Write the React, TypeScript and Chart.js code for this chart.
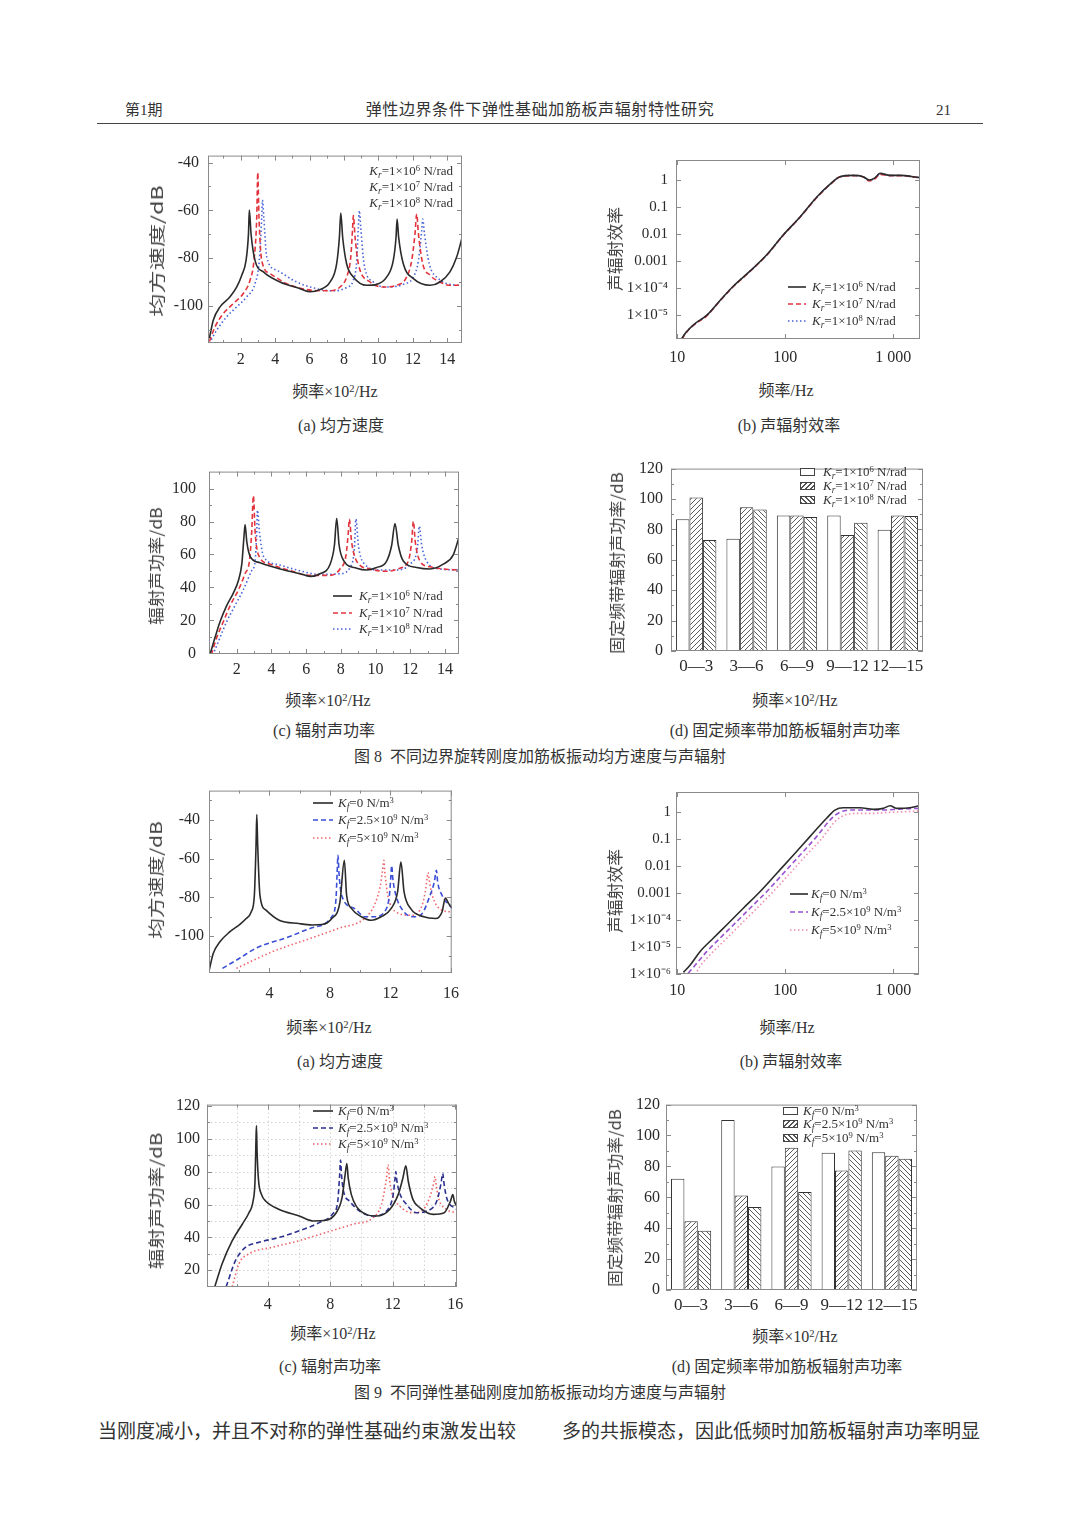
import React, { useEffect, useLayoutEffect, useRef } from "react";
import { Chart, registerables } from "chart.js";
Chart.register(...registerables);

const SERIF = "'Liberation Serif', 'Noto Sans CJK SC', serif";
const SANS_CJK = "'Noto Sans CJK SC', 'Liberation Sans', sans-serif";
const TICK_C = "#2a2a2a";
const C_BLACK = "#2b2b2b";
const C_RED = "#e3343e";
const C_BLUE = "#4a63d8";
const C9A_BLUE = "#3a4fd6";
const C9A_RED = "#f0666e";
const C9B_PURPLE = "#9a52d2";
const C9B_PINK = "#f28cb0";
const C9C_NAVY = "#2c3190";
const C9C_RED = "#ee6464";
const DASH = [5, 3];
const DOT = [1.5, 2.5];

// ---------- Fig 8(a) mean square velocity (x: ×10² Hz, y: dB) ----------
const F8A_X_K6 = [0.18, 0.41, 0.8, 1.38, 1.77, 2.06, 2.31, 2.45, 2.5, 2.6, 2.83, 3.32, 4.28, 5.45, 6.03, 6.6, 7.19, 7.57, 7.73, 7.81, 7.92, 8.15, 8.54, 9.32, 9.9, 10.48, 10.86, 11.02, 11.08, 11.17, 11.44, 12.03, 13, 13.57, 14.15, 14.54, 14.85];
const F8A_Y_K6 = [-113.4, -105.8, -100.3, -96.1, -92, -87.1, -80.9, -69.8, -59.8, -69.8, -80.9, -85.7, -89.9, -92.7, -94, -93.1, -89.9, -82.3, -71.2, -61.1, -71.2, -82.3, -87.8, -91.3, -90.9, -87.8, -80.9, -71.2, -63.6, -71.2, -82.3, -88.5, -91.3, -89.9, -85.7, -79.5, -71.5];
const F8A_X_K7 = [0.18, 0.51, 1, 1.57, 2.15, 2.54, 2.77, 2.93, 2.99, 3.06, 3.22, 3.7, 4.67, 5.83, 6.99, 7.77, 8.15, 8.39, 8.5, 8.54, 8.64, 8.83, 9.51, 10.28, 11.06, 11.64, 11.93, 12.12, 12.22, 12.32, 12.57, 13, 13.57, 14.15, 14.85];
const F8A_Y_K7 = [-114.8, -108.6, -103, -98.9, -94.7, -89.2, -80.9, -62.9, -44.2, -62.9, -80.9, -86.4, -90.6, -93.1, -93.6, -92, -87.8, -79.5, -67, -62.2, -71.2, -82.3, -89.9, -92, -91.3, -87.8, -80.9, -69.8, -61.5, -69.8, -82.3, -87.1, -89.9, -91.3, -91.3];
const F8A_X_K8 = [0.18, 0.61, 1.19, 1.77, 2.35, 2.83, 3.08, 3.22, 3.26, 3.34, 3.51, 4.09, 5.25, 6.41, 7.38, 8.15, 8.54, 8.74, 8.83, 8.89, 8.97, 9.16, 9.7, 10.48, 11.44, 12.03, 12.32, 12.51, 12.57, 12.67, 12.95, 13.48, 14.15, 14.85];
const F8A_Y_K8 = [-115.5, -110, -104.4, -100.3, -96.1, -90.6, -80.9, -62.9, -55.7, -62.9, -79.5, -85, -89.9, -92.7, -93.6, -92.2, -89.2, -80.9, -67, -60.1, -67, -82.3, -89.9, -92, -90.9, -87.8, -80.9, -68.4, -63.6, -69.8, -82.3, -88.5, -90.9, -91.3];
const T8A_X = [2, 4, 6, 8, 10, 12, 14];
const M8A_X = [1, 3, 5, 7, 9, 11, 13];
const T8A_Y = [-100, -80, -60, -40];
const M8A_Y = [-110, -90, -70, -50];

// ---------- Fig 8(b) radiation efficiency (log-log) ----------
const F8B_X = [11, 12.2, 14.6, 18.7, 24.8, 33, 47.1, 67.1, 95.7, 137, 195, 260, 321, 426, 526, 600, 676, 753, 931, 1150, 1760];
const F8B_Y_K6 = [1.4e-6, 2.5e-6, 5e-6, 1e-5, 3.5e-5, 1.2e-4, 4.3e-4, 1.7e-3, 9.3e-3, 0.043, 0.23, 0.7, 1.32, 1.48, 1.32, 1.0, 1.2, 1.75, 1.48, 1.48, 1.22];
const F8B_Y_K7 = [1.3e-6, 2.4e-6, 4.8e-6, 9.5e-6, 3.4e-5, 1.15e-4, 4.2e-4, 1.65e-3, 9.0e-3, 0.042, 0.22, 0.68, 1.3, 1.45, 1.3, 0.92, 1.1, 1.6, 1.45, 1.45, 1.2];
const F8B_Y_K8 = [1.35e-6, 2.45e-6, 4.9e-6, 9.8e-6, 3.45e-5, 1.18e-4, 4.25e-4, 1.68e-3, 9.2e-3, 0.043, 0.225, 0.69, 1.31, 1.47, 1.31, 0.97, 1.15, 1.7, 1.47, 1.47, 1.21];
const T_LOGX = [10, 100, 1000];
const T_LOGX_LABELS = ["10", "100", "1 000"];
const T8B_Y = [1e-5, 1e-4, 1e-3, 0.01, 0.1, 1];
const T8B_Y_LABELS = ["1×10⁻⁵", "1×10⁻⁴", "0.001", "0.01", "0.1", "1"];

// ---------- Fig 8(c) radiated sound power (dB) ----------
const F8C_X_K6 = [0.45, 0.75, 1.04, 1.42, 1.81, 2.1, 2.29, 2.42, 2.48, 2.58, 2.77, 3.34, 4.5, 5.65, 6.22, 6.8, 7.38, 7.63, 7.76, 7.9, 8.18, 8.91, 9.49, 10.06, 10.64, 10.93, 11.12, 11.31, 11.6, 12.37, 13.14, 13.9, 14.48, 14.81];
const F8C_Y_K6 = [-1, 9.7, 19.3, 29, 36.7, 44.4, 54.1, 71.4, 78.2, 67.6, 58.9, 55, 51.2, 48.3, 46.7, 48.3, 54.1, 65.6, 82, 65.6, 56, 51.7, 50.6, 52.1, 56, 65.6, 78.8, 65.6, 56, 52.1, 51.2, 54.1, 59.8, 70.5];
const F8C_X_K7 = [0.53, 0.85, 1.23, 1.62, 2.1, 2.48, 2.73, 2.86, 2.96, 3.06, 3.25, 3.92, 5.07, 6.22, 7.38, 7.95, 8.3, 8.43, 8.49, 8.62, 8.91, 9.68, 10.64, 11.41, 11.89, 12.08, 12.18, 12.29, 12.56, 13.14, 13.9, 14.81];
const F8C_Y_K7 = [-1, 9.7, 19.3, 29, 38.6, 48.3, 56, 73.4, 95.6, 73.4, 59.8, 54.1, 50.2, 47.3, 47.3, 51.2, 59.8, 73.4, 81.5, 67.6, 56, 51.2, 49.8, 51.7, 56, 67.6, 80.1, 67.6, 56, 52.5, 51.2, 50.6];
const F8C_X_K8 = [0.62, 1.04, 1.42, 1.9, 2.38, 2.86, 3.06, 3.15, 3.19, 3.31, 3.54, 4.3, 5.46, 6.8, 7.95, 8.53, 8.78, 8.87, 9.01, 9.3, 10.26, 11.22, 11.98, 12.41, 12.52, 12.66, 12.94, 13.71, 14.81];
const F8C_Y_K8 = [-1, 9.7, 19.3, 29, 38.6, 50.2, 56, 73.4, 86.9, 73.4, 58.9, 54.1, 50.6, 47.9, 48.3, 52.1, 63.7, 81.5, 65.6, 55, 50.6, 50.6, 54.1, 63.7, 77.2, 65.6, 56, 51.2, 50.6];
const T8C_X = [2, 4, 6, 8, 10, 12, 14];
const M8C_X = [1, 3, 5, 7, 9, 11, 13];
const T8C_Y = [0, 20, 40, 60, 80, 100];
const M8C_Y = [10, 30, 50, 70, 90];

// ---------- Fig 8(d) band sound power (dB) ----------
const BAND_CATS = ["0—3", "3—6", "6—9", "9—12", "12—15"];
const F8D_K6 = [86.7, 73.8, 89.2, 89.2, 79.8];
const F8D_K7 = [101, 94.6, 89.2, 76.3, 89.2];
const F8D_K8 = [73.1, 93.1, 88.2, 84.3, 88.8];
const T_BAR_Y = [0, 20, 40, 60, 80, 100, 120];
const M_BAR_Y = [10, 30, 50, 70, 90, 110];

// ---------- Fig 9(a) mean square velocity ----------
const F9A_X_K0 = [0, 0.28, 0.72, 1.37, 2.02, 2.46, 2.79, 3.0, 3.11, 3.16, 3.22, 3.37, 3.77, 4.64, 5.94, 6.81, 7.47, 8.12, 8.66, 8.95, 9.1, 9.43, 10.08, 10.73, 11.38, 12.04, 12.47, 12.69, 12.9, 13.34, 14.2, 14.98, 15.41, 15.63, 15.85, 16.1];
const F9A_Y_K0 = [-118, -108.9, -102.9, -97.8, -94, -90.9, -87.5, -78.9, -53.2, -37.3, -53.2, -78.9, -86.6, -91.8, -93.5, -94.2, -94, -90.9, -82.3, -60.9, -78.9, -85.8, -90, -91.8, -90, -85.8, -77.2, -61.8, -77.2, -85.8, -90, -90.9, -87.5, -80.3, -83.2, -85.5];
const F9A_X_K25 = [0.89, 2.02, 3.11, 5.29, 6.81, 8.12, 8.4, 8.47, 8.53, 8.6, 8.77, 9.64, 10.3, 10.95, 11.6, 11.93, 12.02, 12.08, 12.15, 12.36, 12.9, 13.56, 14.1, 14.54, 14.9, 15.04, 15.12, 15.41, 16.1];
const F9A_Y_K25 = [-116.6, -111.4, -106.2, -100.3, -95.7, -89.9, -80.6, -68, -58.3, -68, -78.9, -85.8, -90, -90, -87.5, -78.9, -70, -63.5, -70, -78.9, -87.5, -90, -88.3, -80.6, -72, -66, -72, -78.9, -85.8];
const F9A_X_K5 = [1.81, 4.2, 6.38, 8.56, 10.3, 10.95, 11.3, 11.48, 11.56, 11.64, 11.82, 12.36, 13.34, 14, 14.3, 14.42, 14.48, 14.56, 14.76, 15.41, 16.1];
const F9A_Y_K5 = [-116.6, -108, -102, -96, -90.8, -83.7, -75, -66, -60.9, -68, -78.9, -87.5, -89.2, -85.8, -77.2, -70, -67.2, -71, -78.9, -86.6, -87.5];
const T9A_X = [4, 8, 12, 16];
const M9A_X = [2, 6, 10, 14];
const T9A_Y = [-100, -80, -60, -40];
const M9A_Y = [-110, -90, -70, -50, -30];

// ---------- Fig 9(b) radiation efficiency ----------
const F9B_X_K0 = [11.4, 13.1, 16.2, 21.5, 28.6, 40.8, 58.2, 83.1, 119, 169, 241, 288, 345, 491, 653, 808, 933, 1072, 1426, 1740];
const F9B_Y_K0 = [1.15e-6, 2.1e-6, 6.7e-6, 2.1e-5, 6.5e-5, 2.7e-4, 1.1e-3, 5.2e-3, 0.025, 0.12, 0.57, 1.15, 1.4, 1.4, 1.22, 1.33, 1.67, 1.33, 1.4, 1.67];
const F9B_X_K25 = [12.6, 14.6, 18.7, 24.8, 33, 47.1, 67.1, 95.7, 137, 195, 269, 321, 398, 566, 808, 1150, 1740];
const F9B_Y_K25 = [1.07e-6, 2.1e-6, 6.7e-6, 2.1e-5, 6.5e-5, 2.7e-4, 1.1e-3, 5.2e-3, 0.025, 0.12, 0.57, 0.95, 1.15, 1.15, 1.15, 1.25, 1.33];
const F9B_X_K5 = [14.6, 16.2, 20.8, 27.6, 36.7, 52.4, 74.7, 107, 152, 217, 288, 357, 457, 653, 933, 1300, 1740];
const F9B_Y_K5 = [9.3e-7, 1.9e-6, 5.9e-6, 1.8e-5, 5.6e-5, 2.3e-4, 9.6e-4, 4.6e-3, 0.022, 0.1, 0.43, 0.75, 0.87, 0.87, 0.95, 1.0, 1.06];
const T9B_Y = [1e-6, 1e-5, 1e-4, 1e-3, 0.01, 0.1, 1];
const T9B_Y_LABELS = ["1×10⁻⁶", "1×10⁻⁵", "1×10⁻⁴", "0.001", "0.01", "0.1", "1"];

// ---------- Fig 9(c) radiated sound power ----------
const F9C_X_K0 = [0.6, 1.07, 1.72, 2.36, 2.79, 3.05, 3.18, 3.24, 3.27, 3.31, 3.4, 3.6, 3.87, 4.73, 6.01, 6.87, 7.73, 8.38, 8.75, 8.95, 9.06, 9.15, 9.35, 9.66, 10.3, 10.95, 11.81, 12.35, 12.65, 12.84, 13.0, 13.3, 13.75, 14.6, 15.3, 15.7, 15.85, 15.95, 16.1];
const F9C_Y_K0 = [10, 24, 38, 48, 55, 62, 75, 100, 108, 92, 75, 66, 62, 57, 53, 50, 50.4, 55, 64, 78, 85, 76, 66, 59, 54, 53, 57, 66, 76, 83.6, 74, 63, 58, 54, 55, 62, 66, 62, 59];
const F9C_X_K25 = [1.33, 1.93, 2.58, 3.44, 4.73, 6.01, 7.3, 8.16, 8.48, 8.6, 8.66, 8.72, 8.85, 9.24, 9.88, 10.74, 11.6, 12.03, 12.15, 12.2, 12.26, 12.41, 12.89, 13.53, 14.17, 14.82, 15.1, 15.2, 15.3, 15.46, 16.1];
const F9C_Y_K25 = [10, 26, 34, 37, 40, 44, 49, 54.4, 62, 78, 87, 78, 68, 62, 56, 53, 56, 66, 76, 80, 75, 68, 60, 55, 56, 62, 73, 79, 72, 64, 57];
const F9C_X_K5 = [1.72, 2.15, 2.79, 4.3, 6.01, 7.73, 9.45, 10.74, 11.28, 11.6, 11.7, 11.8, 11.92, 12.46, 13.32, 13.96, 14.43, 14.65, 14.71, 14.8, 14.93, 15.46, 16.1];
const F9C_Y_K5 = [10, 24, 30, 34, 38, 43, 48, 52, 60, 76, 84, 75, 68, 59, 55, 57, 66, 74, 77, 71, 64, 57, 55];
const T9C_X = [4, 8, 12, 16];
const M9C_X = [2, 6, 10, 14];
const T9C_Y = [20, 40, 60, 80, 100, 120];
const M9C_Y = [30, 50, 70, 90, 110];
const G9C_X = [2, 4, 6, 8, 10, 12, 14];
const G9C_Y = [20, 30, 40, 50, 60, 70, 80, 90, 100, 110];

// ---------- Fig 9(d) band sound power ----------
const F9D_K0 = [72, 110.1, 80, 88.8, 89.2];
const F9D_K25 = [44.5, 61.1, 92, 77.4, 86.9];
const F9D_K5 = [38.3, 53.8, 63.4, 90.3, 84.9];

// ================= helpers =================
type Box = { l: number; t: number; w: number; h: number };
const PAD = { l: 72, t: 14, r: 16, b: 34 };

function series(xs: number[], ys: number[], color: string, dash: number[], width = 1.6) {
  return {
    data: xs.map((x, i) => ({ x, y: ys[i] })),
    borderColor: color,
    borderWidth: width,
    borderDash: dash,
    pointRadius: 0,
    fill: false,
    cubicInterpolationMode: "monotone",
  };
}

function linAxis(min: number, max: number, ticks: number[], pad: number, size = 16, crossAlign = "near") {
  return {
    type: "linear",
    min,
    max,
    grid: { display: false, drawTicks: false },
    border: { display: false },
    ticks: {
      padding: pad,
      crossAlign,
      autoSkip: false,
      maxRotation: 0,
      minRotation: 0,
      color: TICK_C,
      font: { family: SERIF, size },
      callback: (v: any) => String(v),
    },
    afterBuildTicks: (s: any) => {
      s.ticks = ticks.map((value) => ({ value }));
    },
  };
}

function logAxis(min: number, max: number, ticks: number[], labels: string[], pad: number, size = 16) {
  return {
    type: "logarithmic",
    min,
    max,
    grid: { display: false, drawTicks: false },
    border: { display: false },
    ticks: {
      padding: pad,
      autoSkip: false,
      maxRotation: 0,
      minRotation: 0,
      color: TICK_C,
      font: { family: SERIF, size },
      callback: (_v: any, i: number) => labels[i],
    },
    afterBuildTicks: (s: any) => {
      s.ticks = ticks.map((value) => ({ value }));
    },
  };
}

function catAxis(labels: string[], pad: number, size = 17) {
  return {
    type: "category",
    labels,
    offset: true,
    grid: { display: false, drawTicks: false },
    border: { display: false },
    ticks: { padding: pad, autoSkip: false, maxRotation: 0, minRotation: 0, color: TICK_C, font: { family: SERIF, size } },
  };
}

function baseOptions(x: any, y: any) {
  return {
    responsive: false,
    animation: false,
    devicePixelRatio: 1,
    layout: { padding: { left: 0, top: PAD.t, right: PAD.r, bottom: 0 } },
    plugins: { legend: { display: false }, tooltip: { enabled: false }, title: { display: false } },
    scales: {
      x: { ...x, afterFit: (s: any) => { s.height = PAD.b; } },
      y: { ...y, afterFit: (s: any) => { s.width = PAD.l; } },
    },
  };
}

type FrameOpts = { xMajor?: number[]; xMinor?: number[]; yMajor?: number[]; yMinor?: number[]; gridX?: number[]; gridY?: number[] };
function framePlugin(o: FrameOpts) {
  return {
    id: "frameTicks",
    beforeDatasetsDraw(chart: any) {
      const { ctx, chartArea: a, scales } = chart;
      if (!o.gridX && !o.gridY) return;
      ctx.save();
      ctx.strokeStyle = "#d2d2d2";
      ctx.lineWidth = 1;
      ctx.setLineDash([1.5, 2.5]);
      (o.gridX || []).forEach((v) => {
        const p = Math.round(scales.x.getPixelForValue(v)) + 0.5;
        ctx.beginPath(); ctx.moveTo(p, a.top); ctx.lineTo(p, a.bottom); ctx.stroke();
      });
      (o.gridY || []).forEach((v) => {
        const p = Math.round(scales.y.getPixelForValue(v)) + 0.5;
        ctx.beginPath(); ctx.moveTo(a.left, p); ctx.lineTo(a.right, p); ctx.stroke();
      });
      ctx.restore();
    },
    afterDatasetsDraw(chart: any) {
      const { ctx, chartArea: a, scales } = chart;
      ctx.save();
      ctx.strokeStyle = "#8a8a8a";
      ctx.lineWidth = 1;
      ctx.setLineDash([]);
      ctx.strokeRect(a.left + 0.5, a.top + 0.5, a.right - a.left - 1, a.bottom - a.top - 1);
      const seg = (x1: number, y1: number, x2: number, y2: number) => {
        ctx.beginPath(); ctx.moveTo(x1, y1); ctx.lineTo(x2, y2); ctx.stroke();
      };
      const xt = (vals: number[] | undefined, len: number) =>
        (vals || []).forEach((v) => {
          const p = Math.round(scales.x.getPixelForValue(v)) + 0.5;
          seg(p, a.bottom, p, a.bottom - len);
          seg(p, a.top, p, a.top + len);
        });
      const yt = (vals: number[] | undefined, len: number) =>
        (vals || []).forEach((v) => {
          const p = Math.round(scales.y.getPixelForValue(v)) + 0.5;
          seg(a.left, p, a.left + len, p);
          seg(a.right, p, a.right - len, p);
        });
      xt(o.xMajor, 5);
      xt(o.xMinor, 3);
      yt(o.yMajor, 5);
      yt(o.yMinor, 3);
      ctx.restore();
    },
  };
}

function hatch(ctx: CanvasRenderingContext2D, dir: number) {
  const s = 5;
  const c = document.createElement("canvas");
  c.width = s;
  c.height = s;
  const g = c.getContext("2d")!;
  g.fillStyle = "#ffffff";
  g.fillRect(0, 0, s, s);
  g.strokeStyle = "#4a4a4a";
  g.lineWidth = 0.9;
  g.beginPath();
  if (dir > 0) {
    g.moveTo(0, s); g.lineTo(s, 0);
    g.moveTo(-1, 1); g.lineTo(1, -1);
    g.moveTo(s - 1, s + 1); g.lineTo(s + 1, s - 1);
  } else {
    g.moveTo(0, 0); g.lineTo(s, s);
    g.moveTo(s - 1, -1); g.lineTo(s + 1, 1);
    g.moveTo(-1, s - 1); g.lineTo(1, s + 1);
  }
  g.stroke();
  return ctx.createPattern(c, "repeat");
}

function barSet(data: number[], bg: any) {
  return {
    data,
    backgroundColor: bg,
    borderColor: "#333",
    borderWidth: 1,
    categoryPercentage: 0.8,
    barPercentage: 1.0,
  };
}

function ChartBox({ box, build }: { box: Box; build: (ctx: CanvasRenderingContext2D) => any }) {
  const ref = useRef<HTMLCanvasElement>(null);
  useEffect(() => {
    const cv = ref.current!;
    const chart = new Chart(cv, build(cv.getContext("2d")!));
    return () => chart.destroy();
  }, []);
  const W = box.w + PAD.l + PAD.r;
  const H = box.h + PAD.t + PAD.b;
  return (
    <canvas
      ref={ref}
      width={W}
      height={H}
      style={{ position: "absolute", left: box.l - PAD.l, top: box.t - PAD.t, width: W, height: H }}
    />
  );
}

function Txt({ x, y, size = 16, align = "center", children, font = SERIF, color = "#333", ls = 0 }: any) {
  const tx = align === "center" ? "-50%" : align === "right" ? "-100%" : "0";
  return (
    <div
      style={{
        position: "absolute",
        left: x,
        top: y,
        transform: `translate(${tx},-50%)`,
        fontSize: size,
        fontFamily: font,
        color,
        whiteSpace: "nowrap",
        lineHeight: 1.2,
        letterSpacing: ls,
      }}
    >
      {children}
    </div>
  );
}

function YTitle({ x, y, len, size = 16, children }: any) {
  const ref = useRef<HTMLDivElement>(null);
  useLayoutEffect(() => {
    const el = ref.current!;
    const w = el.offsetWidth || len;
    el.style.transform = `translate(-50%,-50%) rotate(-90deg) scaleX(${len / w})`;
  }, []);
  return (
    <div
      ref={ref}
      style={{
        position: "absolute",
        left: x,
        top: y,
        transform: "translate(-50%,-50%) rotate(-90deg)",
        fontSize: size,
        fontFamily: SANS_CJK,
        color: "#444",
        whiteSpace: "nowrap",
        lineHeight: 1,
      }}
    >
      {children}
    </div>
  );
}

const SUB = { fontSize: "0.72em", fontStyle: "italic", verticalAlign: "-0.3em", lineHeight: 0 } as const;
const SUP = { fontSize: "0.66em", verticalAlign: "0.5em", lineHeight: 0 } as const;

function KLab({ s, pre, exp, unit }: { s: string; pre: string; exp?: string; unit: string }) {
  return (
    <>
      <i>K</i>
      <sub style={SUB}>{s}</sub>={pre}
      {exp ? (
        <>
          10<sup style={SUP}>{exp}</sup>
        </>
      ) : null}{" "}
      {unit}
    </>
  );
}
const NRAD = "N/rad";
function NM3() {
  return (
    <>
      N/m<sup style={SUP}>3</sup>
    </>
  );
}

function LineSample({ x1, x2, y, color, dash, width = 1.6 }: any) {
  return (
    <svg
      style={{ position: "absolute", left: x1, top: y - 3, overflow: "visible" }}
      width={x2 - x1}
      height={6}
    >
      <line x1={0} y1={3} x2={x2 - x1} y2={3} stroke={color} strokeWidth={width} strokeDasharray={dash.length ? dash.join(",") : undefined} />
    </svg>
  );
}

function HatchBox({ x, y, w = 15, h = 8, kind }: any) {
  const bg =
    kind === 0
      ? "#fff"
      : kind > 0
      ? "repeating-linear-gradient(135deg, #555 0 1px, #fff 1px 3.5px)"
      : "repeating-linear-gradient(45deg, #555 0 1px, #fff 1px 3.5px)";
  return (
    <div
      style={{
        position: "absolute",
        left: x,
        top: y - h / 2,
        width: w,
        height: h,
        boxSizing: "border-box",
        border: "1px solid #444",
        background: bg,
      }}
    />
  );
}

function Leg({ x, y, align = "left", children }: any) {
  return (
    <Txt x={x} y={y} size={13} align={align} color="#333">
      {children}
    </Txt>
  );
}

function XTitle({ x, y }: any) {
  return (
    <Txt x={x} y={y} size={16}>
      频率×10<sup style={SUP}>2</sup>/Hz
    </Txt>
  );
}

// ================= App =================
export default function App() {
  const B8A: Box = { l: 208, t: 155, w: 254, h: 188 };
  const B8B: Box = { l: 676, t: 157, w: 244, h: 182 };
  const B8C: Box = { l: 209, t: 463, w: 250, h: 191 };
  const B8D: Box = { l: 671, t: 465, w: 252, h: 186 };
  const B9A: Box = { l: 209, t: 790, w: 245, h: 183 };
  const B9B: Box = { l: 676, t: 792, w: 243, h: 182 };
  const B9C: Box = { l: 207, t: 1102, w: 250, h: 185 };
  const B9D: Box = { l: 666, t: 1103, w: 251, h: 187 };

  return (
    <div
      style={{
        position: "absolute",
        left: 0,
        top: 0,
        width: 1080,
        height: 1527,
        background: "#fff",
        overflow: "hidden",
        fontFamily: SERIF,
        color: "#333",
      }}
    >
      {/* header */}
      <Txt x={125} y={110} size={15} align="left">第1期</Txt>
      <Txt x={540} y={110} size={16} ls={0.6}>弹性边界条件下弹性基础加筋板声辐射特性研究</Txt>
      <Txt x={951} y={110} size={15} align="right">21</Txt>
      <div style={{ position: "absolute", left: 97, top: 122.5, width: 886, height: 1.6, background: "#444" }} />

      {/* ===== Fig 8 (a) ===== */}
      <ChartBox
        box={B8A}
        build={() => ({
          type: "line",
          data: {
            datasets: [
              series(F8A_X_K6, F8A_Y_K6, C_BLACK, []),
              series(F8A_X_K7, F8A_Y_K7, C_RED, DASH),
              series(F8A_X_K8, F8A_Y_K8, C_BLUE, DOT),
            ],
          },
          options: baseOptions(linAxis(0.1, 14.85, T8A_X, 7), linAxis(-115.4, -37.1, T8A_Y, 5, 16, "center")),
          plugins: [framePlugin({ xMajor: T8A_X, xMinor: M8A_X, yMajor: T8A_Y, yMinor: M8A_Y })],
        })}
      />
      <Leg x={453} y={171} align="right"><KLab s="r" pre="1×" exp="6" unit={NRAD} /></Leg>
      <Leg x={453} y={187} align="right"><KLab s="r" pre="1×" exp="7" unit={NRAD} /></Leg>
      <Leg x={453} y={203} align="right"><KLab s="r" pre="1×" exp="8" unit={NRAD} /></Leg>
      <YTitle x={156} y={251} len={132} size={16}>均方速度/dB</YTitle>
      <XTitle x={335} y={392} />
      <Txt x={341} y={426} size={16}>(a) 均方速度</Txt>

      {/* ===== Fig 8 (b) ===== */}
      <ChartBox
        box={B8B}
        build={() => ({
          type: "line",
          data: {
            datasets: [
              series(F8B_X, F8B_Y_K6, C_BLACK, []),
              series(F8B_X, F8B_Y_K7, C_RED, DASH),
              series(F8B_X, F8B_Y_K8, C_BLUE, DOT),
            ],
          },
          options: baseOptions(logAxis(9.75, 1766, T_LOGX, T_LOGX_LABELS, 9), logAxis(1.35e-6, 5.46, T8B_Y, T8B_Y_LABELS, 8, 15)),
          plugins: [framePlugin({ xMajor: T_LOGX, yMajor: T8B_Y })],
        })}
      />
      <LineSample x1={788} x2={806} y={287} color={C_BLACK} dash={[]} />
      <LineSample x1={788} x2={806} y={304} color={C_RED} dash={DASH} />
      <LineSample x1={788} x2={806} y={321} color={C_BLUE} dash={DOT} />
      <Leg x={812} y={287}><KLab s="r" pre="1×" exp="6" unit={NRAD} /></Leg>
      <Leg x={812} y={304}><KLab s="r" pre="1×" exp="7" unit={NRAD} /></Leg>
      <Leg x={812} y={321}><KLab s="r" pre="1×" exp="8" unit={NRAD} /></Leg>
      <YTitle x={614} y={249} len={84} size={16}>声辐射效率</YTitle>
      <Txt x={786} y={391} size={16}>频率/Hz</Txt>
      <Txt x={789} y={426} size={16}>(b) 声辐射效率</Txt>

      {/* ===== Fig 8 (c) ===== */}
      <ChartBox
        box={B8C}
        build={() => ({
          type: "line",
          data: {
            datasets: [
              series(F8C_X_K6, F8C_Y_K6, C_BLACK, []),
              series(F8C_X_K7, F8C_Y_K7, C_RED, DASH),
              series(F8C_X_K8, F8C_Y_K8, C_BLUE, DOT),
            ],
          },
          options: baseOptions(linAxis(0.4, 14.81, T8C_X, 6), linAxis(-0.4, 110.3, T8C_Y, 13)),
          plugins: [framePlugin({ xMajor: T8C_X, xMinor: M8C_X, yMajor: T8C_Y, yMinor: M8C_Y })],
        })}
      />
      <LineSample x1={333} x2={352} y={596} color={C_BLACK} dash={[]} />
      <LineSample x1={333} x2={352} y={612.5} color={C_RED} dash={DASH} />
      <LineSample x1={333} x2={352} y={628.5} color={C_BLUE} dash={DOT} />
      <Leg x={359} y={596}><KLab s="r" pre="1×" exp="6" unit={NRAD} /></Leg>
      <Leg x={359} y={612.5}><KLab s="r" pre="1×" exp="7" unit={NRAD} /></Leg>
      <Leg x={359} y={628.5}><KLab s="r" pre="1×" exp="8" unit={NRAD} /></Leg>
      <YTitle x={155} y={566} len={118} size={16}>辐射声功率/dB</YTitle>
      <XTitle x={328} y={701} />
      <Txt x={324} y={731} size={16}>(c) 辐射声功率</Txt>

      {/* ===== Fig 8 (d) ===== */}
      <ChartBox
        box={B8D}
        build={(ctx) => ({
          type: "bar",
          data: {
            labels: BAND_CATS,
            datasets: [barSet(F8D_K6, "#ffffff"), barSet(F8D_K7, hatch(ctx, 1)), barSet(F8D_K8, hatch(ctx, -1))],
          },
          options: baseOptions(catAxis(BAND_CATS, 5), linAxis(0, 120, T_BAR_Y, 8)),
          plugins: [framePlugin({ yMajor: T_BAR_Y, yMinor: M_BAR_Y })],
        })}
      />
      <HatchBox x={800} y={472} kind={0} />
      <HatchBox x={800} y={486} kind={1} />
      <HatchBox x={800} y={500} kind={-1} />
      <Leg x={823} y={472}><KLab s="r" pre="1×" exp="6" unit={NRAD} /></Leg>
      <Leg x={823} y={486}><KLab s="r" pre="1×" exp="7" unit={NRAD} /></Leg>
      <Leg x={823} y={500}><KLab s="r" pre="1×" exp="8" unit={NRAD} /></Leg>
      <YTitle x={616} y={563} len={182} size={16}>固定频带辐射声功率/dB</YTitle>
      <XTitle x={795} y={701} />
      <Txt x={785} y={731} size={16}>(d) 固定频率带加筋板辐射声功率</Txt>

      <Txt x={540} y={757} size={16}>图 8&nbsp;&nbsp;不同边界旋转刚度加筋板振动均方速度与声辐射</Txt>

      {/* ===== Fig 9 (a) ===== */}
      <ChartBox
        box={B9A}
        build={() => ({
          type: "line",
          data: {
            datasets: [
              series(F9A_X_K0, F9A_Y_K0, C_BLACK, []),
              series(F9A_X_K25, F9A_Y_K25, C9A_BLUE, DASH),
              series(F9A_X_K5, F9A_Y_K5, C9A_RED, DOT),
            ],
          },
          options: baseOptions(linAxis(0, 16.05, T9A_X, 11), linAxis(-119, -24.9, T9A_Y, 5, 16, "center")),
          plugins: [framePlugin({ xMajor: T9A_X, xMinor: M9A_X, yMajor: T9A_Y, yMinor: M9A_Y })],
        })}
      />
      <LineSample x1={313} x2={333} y={803} color={C_BLACK} dash={[]} />
      <LineSample x1={313} x2={333} y={820} color={C9A_BLUE} dash={DASH} />
      <LineSample x1={313} x2={333} y={838} color={C9A_RED} dash={DOT} />
      <Leg x={338} y={803}><KLab s="f" pre="0" unit="" /><NM3 /></Leg>
      <Leg x={338} y={820}><KLab s="f" pre="2.5×" exp="9" unit="" /><NM3 /></Leg>
      <Leg x={338} y={838}><KLab s="f" pre="5×" exp="9" unit="" /><NM3 /></Leg>
      <YTitle x={155} y={880} len={118} size={16}>均方速度/dB</YTitle>
      <XTitle x={329} y={1028} />
      <Txt x={340} y={1062} size={16}>(a) 均方速度</Txt>

      {/* ===== Fig 9 (b) ===== */}
      <ChartBox
        box={B9B}
        build={() => ({
          type: "line",
          data: {
            datasets: [
              series(F9B_X_K0, F9B_Y_K0, C_BLACK, []),
              series(F9B_X_K25, F9B_Y_K25, C9B_PURPLE, DASH),
              series(F9B_X_K5, F9B_Y_K5, C9B_PINK, DOT),
            ],
          },
          options: baseOptions(logAxis(9.72, 1730, T_LOGX, T_LOGX_LABELS, 7), logAxis(1e-6, 5.35, T9B_Y, T9B_Y_LABELS, 5, 15)),
          plugins: [framePlugin({ xMajor: T_LOGX, yMajor: T9B_Y })],
        })}
      />
      <LineSample x1={790} x2={808} y={894} color={C_BLACK} dash={[]} />
      <LineSample x1={790} x2={808} y={912} color={C9B_PURPLE} dash={DASH} />
      <LineSample x1={790} x2={808} y={930} color={C9B_PINK} dash={DOT} />
      <Leg x={811} y={894}><KLab s="f" pre="0" unit="" /><NM3 /></Leg>
      <Leg x={811} y={912}><KLab s="f" pre="2.5×" exp="9" unit="" /><NM3 /></Leg>
      <Leg x={811} y={930}><KLab s="f" pre="5×" exp="9" unit="" /><NM3 /></Leg>
      <YTitle x={614} y={891} len={84} size={16}>声辐射效率</YTitle>
      <Txt x={787} y={1028} size={16}>频率/Hz</Txt>
      <Txt x={791} y={1062} size={16}>(b) 声辐射效率</Txt>

      {/* ===== Fig 9 (c) ===== */}
      <ChartBox
        box={B9C}
        build={() => ({
          type: "line",
          data: {
            datasets: [
              series(F9C_X_K0, F9C_Y_K0, C_BLACK, []),
              series(F9C_X_K25, F9C_Y_K25, C9C_NAVY, DASH),
              series(F9C_X_K5, F9C_Y_K5, C9C_RED, DOT),
            ],
          },
          options: baseOptions(linAxis(0.1, 16.12, T9C_X, 8), linAxis(9.8, 120.8, T9C_Y, 7)),
          plugins: [framePlugin({ xMajor: T9C_X, xMinor: M9C_X, yMajor: T9C_Y, yMinor: M9C_Y, gridX: G9C_X, gridY: G9C_Y })],
        })}
      />
      <LineSample x1={313} x2={333} y={1111} color={C_BLACK} dash={[]} />
      <LineSample x1={313} x2={333} y={1128} color={C9C_NAVY} dash={DASH} />
      <LineSample x1={313} x2={333} y={1144} color={C9C_RED} dash={DOT} />
      <Leg x={338} y={1111}><KLab s="f" pre="0" unit="" /><NM3 /></Leg>
      <Leg x={338} y={1128}><KLab s="f" pre="2.5×" exp="9" unit="" /><NM3 /></Leg>
      <Leg x={338} y={1144}><KLab s="f" pre="5×" exp="9" unit="" /><NM3 /></Leg>
      <YTitle x={155} y={1201} len={137} size={16}>辐射声功率/dB</YTitle>
      <XTitle x={333} y={1334} />
      <Txt x={330} y={1367} size={16}>(c) 辐射声功率</Txt>

      {/* ===== Fig 9 (d) ===== */}
      <ChartBox
        box={B9D}
        build={(ctx) => ({
          type: "bar",
          data: {
            labels: BAND_CATS,
            datasets: [barSet(F9D_K0, "#ffffff"), barSet(F9D_K25, hatch(ctx, 1)), barSet(F9D_K5, hatch(ctx, -1))],
          },
          options: baseOptions(catAxis(BAND_CATS, 5), linAxis(0, 120, T_BAR_Y, 6)),
          plugins: [framePlugin({ yMajor: T_BAR_Y, yMinor: M_BAR_Y })],
        })}
      />
      <HatchBox x={783} y={1110.7} kind={0} />
      <HatchBox x={783} y={1124.3} kind={1} />
      <HatchBox x={783} y={1138.3} kind={-1} />
      <Leg x={803} y={1110.7}><KLab s="f" pre="0" unit="" /><NM3 /></Leg>
      <Leg x={803} y={1124.3}><KLab s="f" pre="2.5×" exp="9" unit="" /><NM3 /></Leg>
      <Leg x={803} y={1138.3}><KLab s="f" pre="5×" exp="9" unit="" /><NM3 /></Leg>
      <YTitle x={614} y={1198} len={178} size={16}>固定频带辐射声功率/dB</YTitle>
      <XTitle x={795} y={1337} />
      <Txt x={787} y={1367} size={16}>(d) 固定频率带加筋板辐射声功率</Txt>

      <Txt x={540} y={1393} size={16}>图 9&nbsp;&nbsp;不同弹性基础刚度加筋板振动均方速度与声辐射</Txt>

      {/* body text */}
      <Txt x={98} y={1432} size={19} align="left">当刚度减小，并且不对称的弹性基础约束激发出较</Txt>
      <Txt x={562} y={1432} size={19} align="left">多的共振模态，因此低频时加筋板辐射声功率明显</Txt>
    </div>
  );
}
